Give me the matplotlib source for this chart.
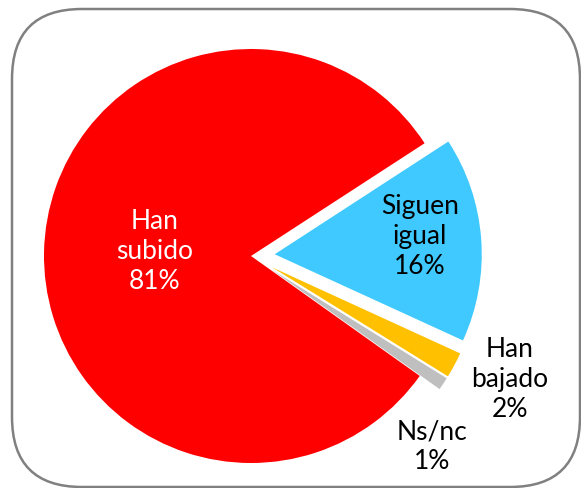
import matplotlib
matplotlib.use("Agg")
import matplotlib.pyplot as plt
from matplotlib.patches import FancyBboxPatch

# survey shares (percent)
categories = ["Han\nsubido", "Siguen\nigual", "Han\nbajado", "Ns/nc"]
values = [81, 16, 2, 1]
colors = ["#FF0000", "#3FC9FF", "#FFC000", "#BFBFBF"]
explode_frac = [0.0, 0.115, 0.115, 0.115]
text_colors = ["white", "black", "black", "black"]
label_pos = [(155, 237), (420, 252), (510, 109), (432, 42)]  # pixel coords, y up

W, H = 581, 489
R = 207
fig = plt.figure(figsize=(W / 100, H / 100), dpi=100)
ax = fig.add_axes([0, 0, 1, 1])

# rounded frame round the chart area
frame = FancyBboxPatch((12, 1), 568, 478, boxstyle="round,pad=0,rounding_size=70",
                       fc="white", ec="#808080", lw=1.8, clip_on=False, zorder=0)
ax.add_patch(frame)

# matplotlib's explode is in data units, so scale by the radius
ax.pie(values, colors=colors, explode=[e * R for e in explode_frac],
       startangle=-35.4, counterclock=False,
       center=(251, 232), radius=R, frame=True,
       wedgeprops=dict(linewidth=0, zorder=2))
ax.set_xlim(0, W)
ax.set_ylim(0, H)
ax.axis("off")

for cat, v, tc, (x, y) in zip(categories, values, text_colors, label_pos):
    ax.text(x, y, f"{cat}\n{v}%", ha="center", va="center", color=tc,
            fontsize=19, family="Lato", linespacing=1.25, zorder=3)

fig.savefig("out.png", dpi=100)
